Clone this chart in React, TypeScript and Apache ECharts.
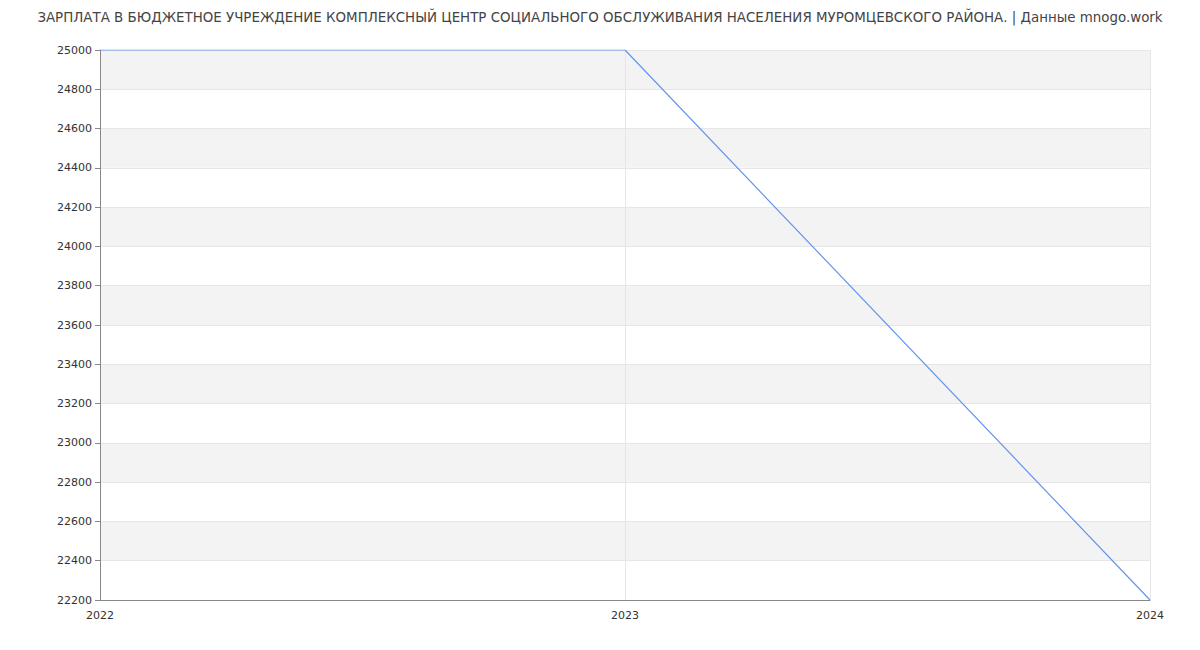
import React, { useEffect, useRef } from "react";
import * as echarts from "echarts";

const title =
  "ЗАРПЛАТА В БЮДЖЕТНОЕ УЧРЕЖДЕНИЕ КОМПЛЕКСНЫЙ ЦЕНТР СОЦИАЛЬНОГО ОБСЛУЖИВАНИЯ НАСЕЛЕНИЯ МУРОМЦЕВСКОГО РАЙОНА. | Данные mnogo.work";
const years = ["2022", "2023", "2024"];
const salary = [25000, 25000, 22200];

export default function App() {
  const ref = useRef<HTMLDivElement>(null);
  useEffect(() => {
    const chart = echarts.init(ref.current!, null, { renderer: "svg" });
    chart.setOption({
      animation: false,
      textStyle: { fontFamily: "DejaVu Sans" },
      title: {
        text: title,
        left: "center",
        top: -2,
        textStyle: { fontSize: 13.4, fontWeight: "normal", color: "#444", fontFamily: "DejaVu Sans" },
      },
      grid: { left: 92, right: 42, top: 42, bottom: 42, containLabel: false },
      xAxis: {
        type: "category",
        data: years,
        boundaryGap: false,
        axisLine: { lineStyle: { color: "#888" } },
        axisTick: { show: false },
        axisLabel: { color: "#333", fontSize: 11, margin: 10 },
        splitLine: { show: true, lineStyle: { color: "#e6e6e6" } },
      },
      yAxis: {
        type: "value",
        min: 22200,
        max: 25000,
        interval: 200,
        axisLine: { show: true, lineStyle: { color: "#888" } },
        axisTick: { show: true, length: 5, lineStyle: { color: "#888" } },
        axisLabel: { color: "#333", fontSize: 11, margin: 8, formatter: (v: number) => String(v) },
        splitLine: { show: true, lineStyle: { color: "#e6e6e6" } },
        splitArea: { show: true, areaStyle: { color: ["#ffffff", "#f3f3f3"] } },
      },
      series: [
        {
          type: "line",
          data: salary,
          symbol: "none",
          lineStyle: { color: "#6495ed", width: 1.2 },
          itemStyle: { color: "#6495ed" },
        },
      ],
    });
    return () => chart.dispose();
  }, []);
  return <div ref={ref} style={{ width: 1184, height: 634 }} />;
}
